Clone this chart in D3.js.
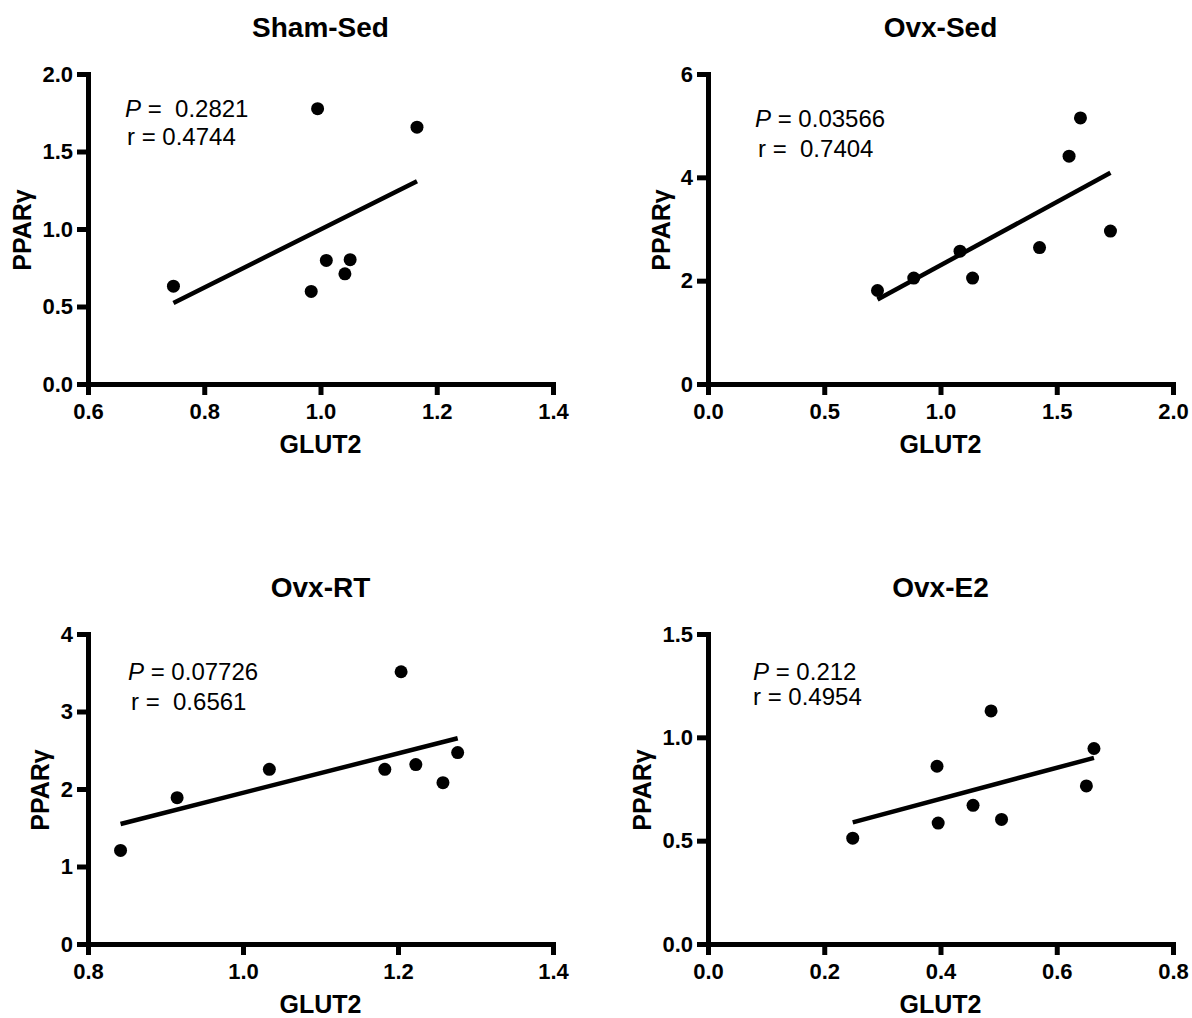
<!DOCTYPE html>
<html>
<head>
<meta charset="utf-8">
<script src="https://cdn.jsdelivr.net/npm/d3@7"></script>
<style>
  body { margin: 0; background: #fff; }
  text { font-family: "Liberation Sans", Arial, Helvetica, sans-serif; fill: #000; }
  .axis path, .axis line { stroke: #000; stroke-width: 5; }
  .axis path { stroke-linecap: square; }
  .axis text { font-size: 22px; font-weight: bold; }
  .title { font-size: 28px; font-weight: bold; }
  .axis-label { font-size: 25px; font-weight: bold; }
  .stats { font-size: 24px; white-space: pre; }
</style>
</head>
<body>
<svg id="chart" width="1192" height="1018"></svg>
<script>
// panel names + axis titles
var panelNames = ['Sham-Sed', 'Ovx-Sed', 'Ovx-RT', 'Ovx-E2'];
var xLabel = 'GLUT2';
var yLabel = 'PPARγ';

// GLUT2 (x) vs PPARγ (y)
var shamSedX = [0.747, 0.995, 1.166, 1.010, 1.051, 1.042, 0.984];
var shamSedY = [0.631, 1.776, 1.657, 0.797, 0.802, 0.711, 0.597];

var ovxSedX = [0.729, 0.885, 1.084, 1.138, 1.426, 1.553, 1.602, 1.731];
var ovxSedY = [1.81, 2.05, 2.57, 2.05, 2.64, 4.41, 5.15, 2.96];

var ovxRtX = [0.842, 0.915, 1.034, 1.183, 1.204, 1.223, 1.258, 1.277];
var ovxRtY = [1.207, 1.888, 2.254, 2.254, 3.513, 2.315, 2.082, 2.47];

var ovxE2X = [0.249, 0.394, 0.396, 0.456, 0.487, 0.505, 0.651, 0.664];
var ovxE2Y = [0.512, 0.860, 0.585, 0.671, 1.128, 0.603, 0.765, 0.946];

// stats printed on each panel
var pValues = [' 0.2821', '0.03566', '0.07726', '0.212'];
var rValues = ['0.4744', ' 0.7404', ' 0.6561', '0.4954'];

// axis domains / ticks
var xDomains = [[0.6, 1.4], [0, 2], [0.8, 1.4], [0, 0.8]];
var yDomains = [[0, 2], [0, 6], [0, 4], [0, 1.5]];
var xTicks = [[0.6, 0.8, 1.0, 1.2, 1.4], [0, 0.5, 1, 1.5, 2], [0.8, 1.0, 1.2, 1.4], [0, 0.2, 0.4, 0.6, 0.8]];
var yTicks = [[0, 0.5, 1, 1.5, 2], [0, 2, 4, 6], [0, 1, 2, 3, 4], [0, 0.5, 1, 1.5]];
var yFormats = ['.1f', 'd', 'd', '.1f'];

var xs = [shamSedX, ovxSedX, ovxRtX, ovxE2X];
var ys = [shamSedY, ovxSedY, ovxRtY, ovxE2Y];

// layout
var panelLeft = [88, 708, 88, 708];
var panelTop = [74, 74, 634, 634];
var w = 465, h = 310;
var yLabelOffset = [57, 38, 39, 57];
var statsPos = [[37, 43, 39, 71], [47, 53, 50, 83], [40, 46, 43, 76], [45, 46, 45, 71]]; // [px, pBase, rx, rBase]

var svg = d3.select('#chart');

// least squares fit
function linFit(x, y) {
  var mx = d3.mean(x), my = d3.mean(y);
  var sxy = 0, sxx = 0;
  for (var i = 0; i < x.length; i++) {
    sxy += (x[i] - mx) * (y[i] - my);
    sxx += (x[i] - mx) * (x[i] - mx);
  }
  var b = sxy / sxx;
  return function(v) { return my + b * (v - mx); };
}

panelNames.forEach(function(name, i) {
  var g = svg.append('g')
    .attr('transform', 'translate(' + panelLeft[i] + ',' + panelTop[i] + ')');

  var x = d3.scaleLinear().domain(xDomains[i]).range([0, w]);
  var y = d3.scaleLinear().domain(yDomains[i]).range([h, 0]);

  g.append('g')
    .attr('class', 'axis')
    .attr('transform', 'translate(0,' + h + ')')
    .call(d3.axisBottom(x).tickValues(xTicks[i]).tickFormat(d3.format('.1f'))
      .tickSize(11).tickSizeOuter(0).tickPadding(8));

  g.append('g')
    .attr('class', 'axis')
    .call(d3.axisLeft(y).tickValues(yTicks[i]).tickFormat(d3.format(yFormats[i]))
      .tickSize(11).tickSizeOuter(0).tickPadding(4));

  // regression line over the data range
  var fit = linFit(xs[i], ys[i]);
  var ext = d3.extent(xs[i]);
  g.append('line')
    .attr('x1', x(ext[0])).attr('y1', y(fit(ext[0])))
    .attr('x2', x(ext[1])).attr('y2', y(fit(ext[1])))
    .attr('stroke', '#000')
    .attr('stroke-width', 4.5);

  g.selectAll('.dot')
    .data(d3.zip(xs[i], ys[i]))
    .enter()
    .append('circle')
      .attr('class', 'dot')
      .attr('cx', d => x(d[0]))
      .attr('cy', d => y(d[1]))
      .attr('r', 6.5)
      .attr('fill', '#000');

  // title
  g.append('text')
    .attr('class', 'title')
    .attr('x', w / 2)
    .attr('y', -37)
    .attr('text-anchor', 'middle')
    .text(name);

  // axis titles
  g.append('text')
    .attr('class', 'axis-label')
    .attr('x', w / 2)
    .attr('y', h + 69)
    .attr('text-anchor', 'middle')
    .text(xLabel);

  g.append('text')
    .attr('class', 'axis-label')
    .attr('transform', 'translate(' + (-yLabelOffset[i]) + ',' + (h / 2 + 1) + ') rotate(-90)')
    .attr('text-anchor', 'middle')
    .text(yLabel);

  // P and r
  var sp = statsPos[i];
  var pt = g.append('text').attr('class', 'stats').attr('x', sp[0]).attr('y', sp[1]);
  pt.append('tspan').attr('font-style', 'italic').text('P');
  pt.append('tspan').text(' = ' + pValues[i]);

  g.append('text').attr('class', 'stats')
    .attr('x', sp[2]).attr('y', sp[3])
    .text('r = ' + rValues[i]);
});
</script>
</body>
</html>
